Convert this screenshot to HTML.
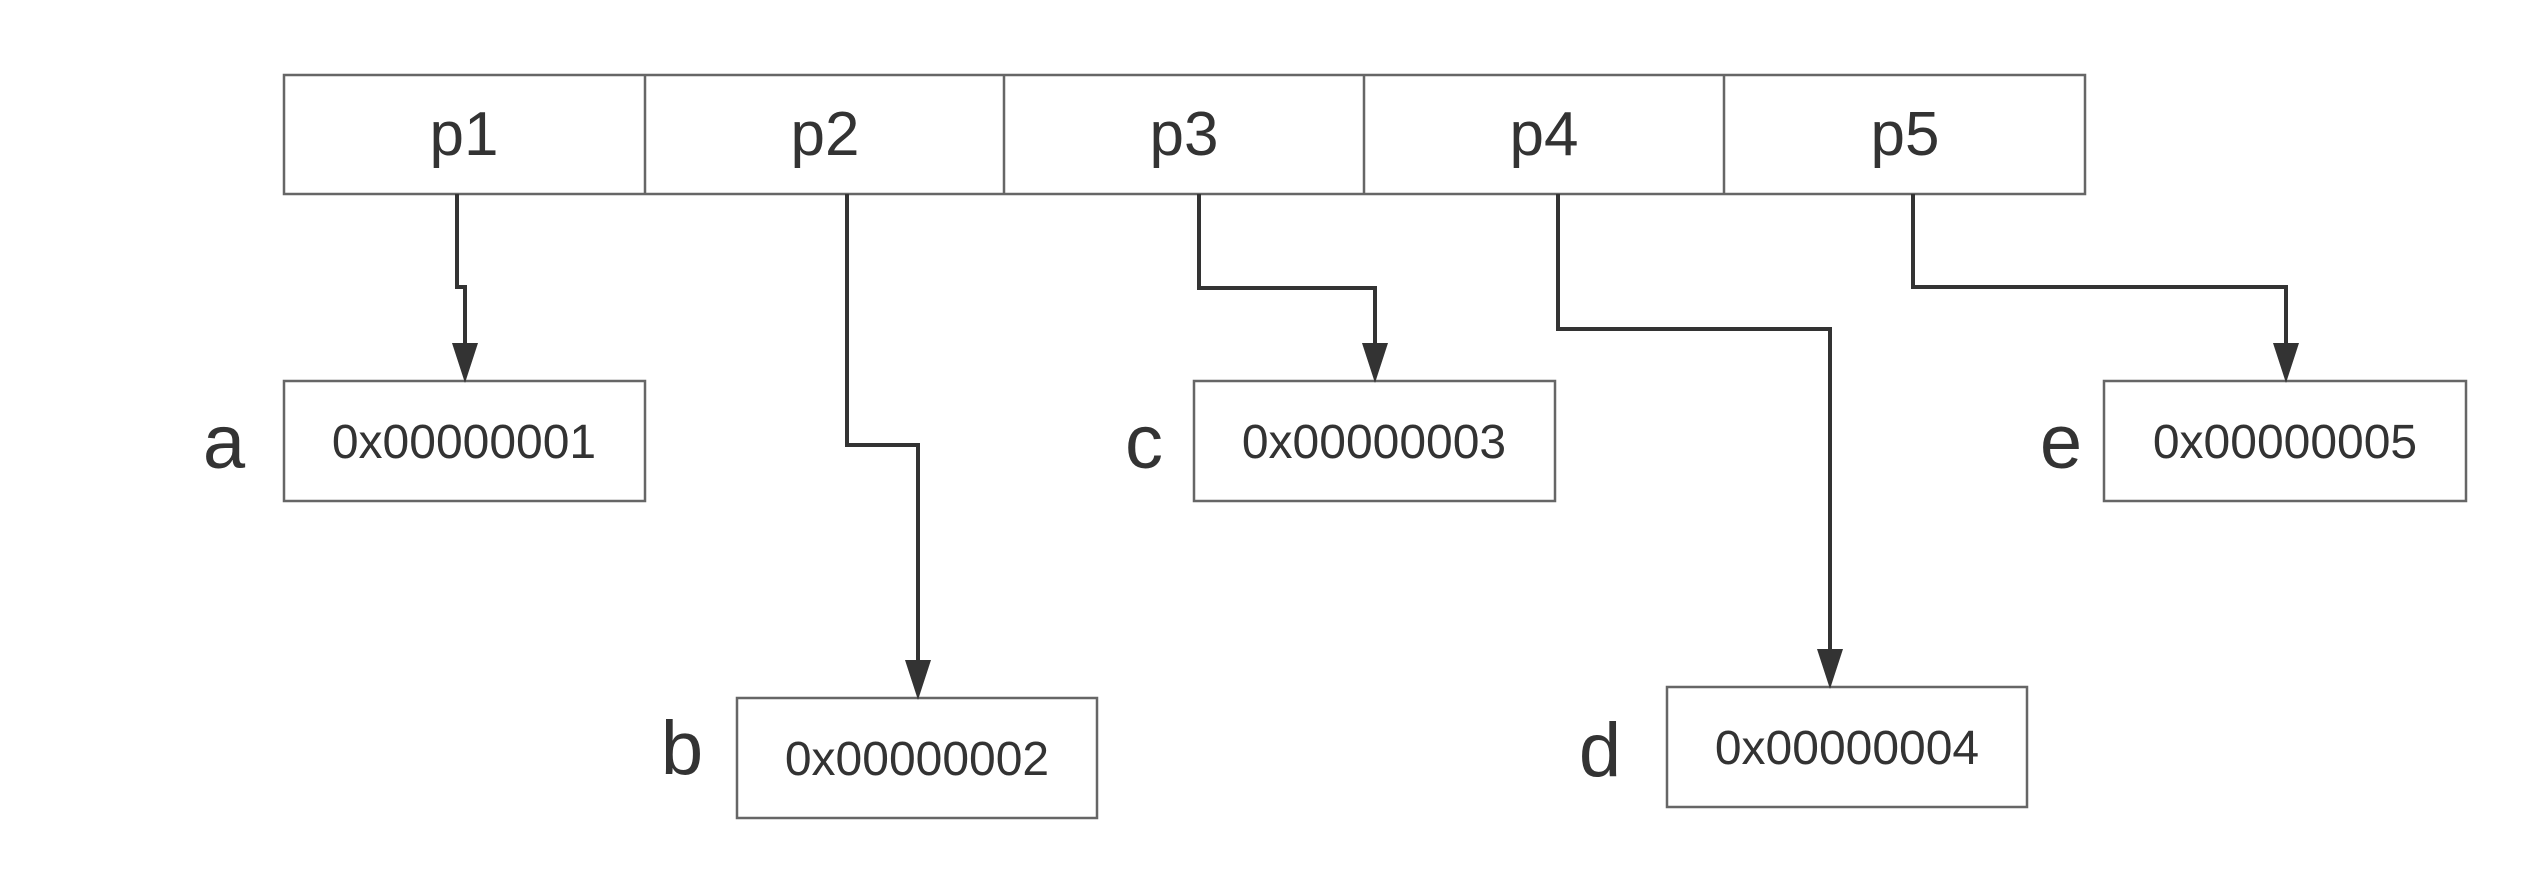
<!DOCTYPE html>
<html><head><meta charset="utf-8"><style>
html,body{margin:0;padding:0;background:#fff;}
svg{display:block;}
text{font-family:"Liberation Sans","Noto Sans CJK SC",sans-serif;fill:#333;}
</style></head><body>
<svg width="2540" height="894" viewBox="0 0 2540 894" xmlns="http://www.w3.org/2000/svg">
<defs>
<marker id="ah" markerWidth="26" markerHeight="40" refX="13" refY="40" orient="auto-start-reverse" markerUnits="userSpaceOnUse" viewBox="0 0 26 40">
</marker>
</defs>
<g fill="none" stroke="#666" stroke-width="2.5">
<rect x="284" y="75" width="1801" height="119"/>
<line x1="645" y1="75" x2="645" y2="194"/>
<line x1="1004" y1="75" x2="1004" y2="194"/>
<line x1="1364" y1="75" x2="1364" y2="194"/>
<line x1="1724" y1="75" x2="1724" y2="194"/>
<rect x="284" y="381" width="361" height="120"/>
<rect x="737" y="698" width="360" height="120"/>
<rect x="1194" y="381" width="361" height="120"/>
<rect x="1667" y="687" width="360" height="120"/>
<rect x="2104" y="381" width="362" height="120"/>
</g>
<g fill="none" stroke="#333" stroke-width="4">
<polyline points="457,194 457,287 465,287 465,345"/>
<polyline points="847,194 847,445 918,445 918,662"/>
<polyline points="1199,194 1199,288 1375,288 1375,345"/>
<polyline points="1558,194 1558,329 1830,329 1830,651"/>
<polyline points="1913,194 1913,287 2286,287 2286,345"/>
</g>
<g fill="#333">
<polygon points="452,343 478,343 465,383"/>
<polygon points="905,660 931,660 918,700"/>
<polygon points="1362,343 1388,343 1375,383"/>
<polygon points="1817,649 1843,649 1830,689"/>
<polygon points="2273,343 2299,343 2286,383"/>
</g>
<g font-size="62" text-anchor="middle">
<text x="464" y="155">p1</text>
<text x="825" y="155">p2</text>
<text x="1184" y="155">p3</text>
<text x="1544" y="155">p4</text>
<text x="1905" y="155">p5</text>
</g>
<g font-size="48" text-anchor="middle">
<text x="464" y="458">0x00000001</text>
<text x="917" y="775">0x00000002</text>
<text x="1374" y="458">0x00000003</text>
<text x="1847" y="764">0x00000004</text>
<text x="2285" y="458">0x00000005</text>
</g>
<g font-size="76" text-anchor="middle">
<text x="224" y="468">a</text>
<text x="682" y="774">b</text>
<text x="1144" y="468">c</text>
<text x="1600" y="776">d</text>
<text x="2061" y="468">e</text>
</g>
</svg>
</body></html>
